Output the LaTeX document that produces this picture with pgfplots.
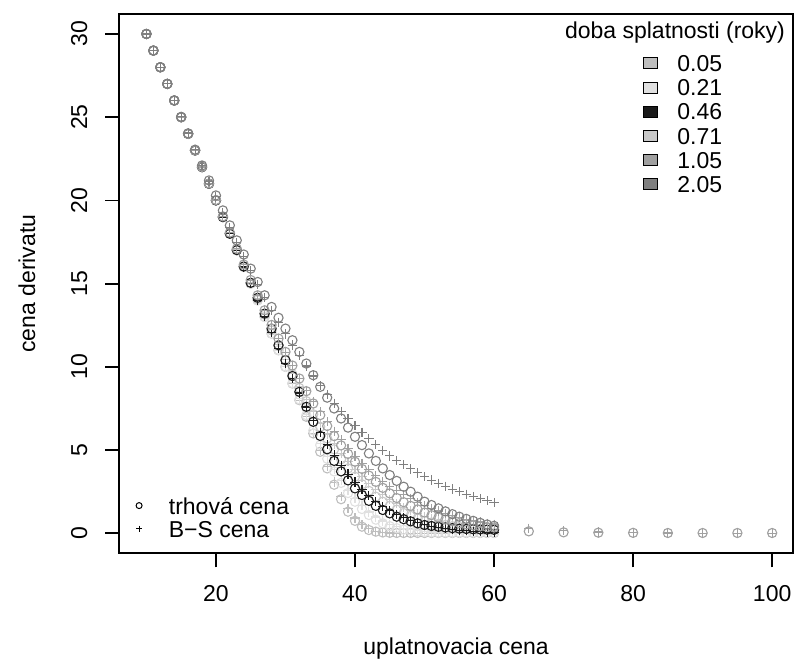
\documentclass[border=0pt]{standalone}
\usepackage{fontspec}
\setmainfont{Liberation Sans}
\usepackage{pgfplots}
\usepackage{pgfplotstable}
\pgfplotsset{compat=1.18}
\definecolor{c005}{HTML}{BEBEBE}
\definecolor{c021}{HTML}{E0E0E0}
\definecolor{c046}{HTML}{1A1A1A}
\definecolor{c071}{HTML}{C8C8C8}
\definecolor{c105}{HTML}{A0A0A0}
\definecolor{c205}{HTML}{7F7F7F}

\pgfplotstableread{
K m05 b05 m21 b21 m46 b46 m71 b71 m105 b105 m205 b205
10 30 30 30 30 30 30 30 30 30 30 30.00 30.00
11 29 29 29 29 29 29 29 29 29 29 29.00 29.00
12 28 28 28 28 28 28 28 28 28 28 28.00 28.01
13 27 27 27 27 27 27 27 27 27 27 27.00 27.01
14 26 26 26 26 26 26 26 26 26 26 26.01 26.02
15 25 25 25 25 25 25 25 25 25 25 25.02 25.03
16 24 24 24 24 24 24 24 24 24 24 24.03 24.05
17 23 23 23 23 23 23 23 23 23 23 23.05 23.07
18 22 22 22 22 22 22 22 22 22.01 22.01 22.10 22.10
19 21 21 21 21 21 21 21 21 21.01 21.01 21.20 21.15
20 20 20 20 20 20 20 20 20 20.02 20.02 20.30 20.21
21 19 19 19 19 19 19 19 19.01 19.04 19.04 19.40 19.28
22 18 18 18 18 18 18 18 18.01 18.07 18.07 18.50 18.37
23 17 17 17 17 17.02 17.00 17.01 17.02 17.10 17.10 17.60 17.48
24 16 16 16 16 16.03 16.00 16.03 16.04 16.15 16.15 16.75 16.62
25 15 15 15 15 15.05 15.01 15.05 15.07 15.22 15.21 15.90 15.78
26 14 14 14 14 14.15 14.02 14.08 14.10 14.30 14.29 15.10 14.96
27 13 13 13 13 13.20 13.04 13.13 13.16 13.40 13.39 14.30 14.17
28 12 12 12 12 12.30 12.08 12.19 12.22 12.52 12.52 13.60 13.40
29 11 11 11 11.00 11.30 11.13 11.28 11.33 11.70 11.68 12.95 12.68
30 10 10 10.01 10.02 10.40 10.20 10.40 10.46 10.90 10.86 12.30 11.98
31 9 9 9.02 9.04 9.45 9.30 9.55 9.62 10.08 10.07 11.60 11.31
32 8 8 8.05 8.08 8.50 8.43 8.73 8.81 9.30 9.32 10.90 10.67
33 7 7 7.10 7.14 7.60 7.59 7.94 8.04 8.54 8.60 10.20 10.05
34 6 6 6.18 6.24 6.70 6.79 7.15 7.31 7.80 7.93 9.50 9.45
35 4.90 5.00 5.30 5.39 5.85 6.04 6.40 6.62 7.10 7.30 8.80 8.87
36 3.90 4.02 4.48 4.59 5.05 5.35 5.70 5.97 6.45 6.70 8.15 8.33
37 2.92 3.08 3.72 3.85 4.35 4.70 5.05 5.37 5.84 6.14 7.50 7.82
38 2.05 2.22 3.03 3.19 3.72 4.09 4.45 4.81 5.28 5.61 6.90 7.34
39 1.30 1.48 2.42 2.59 3.18 3.56 3.90 4.30 4.77 5.11 6.35 6.89
40 0.75 0.92 1.90 2.08 2.70 3.08 3.40 3.82 4.30 4.64 5.80 6.47
41 0.40 0.52 1.46 1.65 2.30 2.64 2.95 3.39 3.87 4.21 5.30 6.07
42 0.20 0.27 1.10 1.28 1.95 2.25 2.55 3.00 3.47 3.81 4.80 5.69
43 0.10 0.12 0.82 0.98 1.65 1.91 2.20 2.65 3.09 3.45 4.35 5.33
44 0.05 0.05 0.60 0.74 1.40 1.62 1.90 2.33 2.73 3.12 3.90 4.98
45 0.03 0.02 0.43 0.55 1.20 1.36 1.65 2.04 2.40 2.83 3.50 4.65
46 0.02 0.01 0.31 0.41 1.00 1.13 1.42 1.79 2.12 2.56 3.15 4.38
47 0.02 0.00 0.22 0.30 0.85 0.94 1.22 1.56 1.87 2.31 2.80 4.12
48 0.02 0.00 0.16 0.21 0.72 0.78 1.05 1.36 1.65 2.08 2.50 3.87
49 0.02 0.00 0.11 0.15 0.60 0.64 0.89 1.18 1.44 1.86 2.20 3.63
50 0.02 0.00 0.08 0.11 0.50 0.53 0.75 1.02 1.25 1.66 1.90 3.40
51 0.02 0.00 0.06 0.08 0.44 0.43 0.65 0.89 1.09 1.49 1.70 3.20
52 0.02 0.00 0.05 0.05 0.39 0.35 0.57 0.77 0.95 1.34 1.50 3.01
53 0.02 0.00 0.05 0.04 0.35 0.28 0.50 0.66 0.83 1.20 1.32 2.83
54 0.02 0.00 0.05 0.02 0.31 0.23 0.43 0.57 0.72 1.07 1.15 2.66
55 0.02 0.00 0.05 0.02 0.28 0.19 0.38 0.48 0.62 0.95 1.00 2.50
56 0.02 0.00 0.05 0.01 0.26 0.15 0.33 0.42 0.54 0.85 0.87 2.35
57 0.02 0.00 0.05 0.01 0.24 0.12 0.29 0.36 0.47 0.76 0.75 2.21
58 0.02 0.00 0.05 0.00 0.23 0.09 0.26 0.31 0.42 0.68 0.63 2.08
59 0.02 0.00 0.05 0.00 0.22 0.07 0.24 0.26 0.38 0.61 0.53 1.96
60 0.02 0.00 0.05 0.00 0.21 0.06 0.22 0.22 0.35 0.54 0.45 1.85
}\datatab

\pgfplotstableread{
K m105 b105
65 0.12 0.30
70 0.06 0.16
75 0.04 0.08
80 0.03 0.04
85 0.02 0.02
90 0.02 0.01
95 0.02 0.01
100 0.02 0.00
}\extratab

\newcommand{\fs}{\fontsize{11.5}{13.8}\selectfont}

\begin{document}
\begin{tikzpicture}
\useasboundingbox (-59.65pt,-54.35pt) rectangle (337.85pt,276.65pt);
\begin{axis}[
  at={(0pt,0pt)}, anchor=south west,
  scale only axis, width=336.85pt, height=269.65pt,
  xmin=6.1, xmax=103.0, ymin=-1.2, ymax=31.2,
  xtick={20,40,60,80,100}, ytick={0,5,10,15,20,25,30},
  xtick pos=bottom, ytick pos=left,
  tick align=outside, major tick length=7pt,
  axis line style={line width=0.9pt},
  every tick/.style={black, line width=0.9pt},
  tick label style={font=\fs},
  /pgf/number format/assume math mode=true,
  xticklabel style={anchor=center},
  xticklabel shift=13pt,
  yticklabel style={rotate=90, anchor=center},
  yticklabel shift=13pt,
  clip=false,
  legend style={at={(axis description cs:0,0)}, anchor=south west,
    xshift=8.4pt, yshift=5.65pt, draw=none, fill=none,
    inner sep=0pt, outer sep=0pt, row sep=0.5pt, column sep=13.4pt,
    font=\fs, nodes={inner sep=0pt, text height=8.5pt, text depth=2.5pt}},
  legend cell align=left,
  legend image code/.code={\draw[#1, mark size=1.5pt, yshift=1.2pt] plot coordinates {(0pt,0pt)};},
]
% legend images
\addlegendimage{only marks, mark=o, black, mark options={line width=0.5pt}}
\addlegendentry{trhová cena}
\addlegendimage{only marks, mark=+, black, mark options={line width=0.5pt}}
\addlegendentry{B−S cena}

\pgfplotsset{
  mk/.style={only marks, mark=o, mark size=2.3pt, #1, mark options={line width=0.55pt}, forget plot},
  bs/.style={only marks, mark=+, mark size=2.3pt, #1, mark options={line width=0.55pt}, forget plot},
}
\addplot[mk=c005] table[x=K, y=m05] {\datatab};
\addplot[bs=c005] table[x=K, y=b05] {\datatab};
\addplot[mk=c021] table[x=K, y=m21] {\datatab};
\addplot[bs=c021] table[x=K, y=b21] {\datatab};
\addplot[mk=c071] table[x=K, y=m71] {\datatab};
\addplot[bs=c071] table[x=K, y=b71] {\datatab};
\addplot[mk=c046] table[x=K, y=m46] {\datatab};
\addplot[bs=c046] table[x=K, y=b46] {\datatab};
\addplot[mk=c105] table[x=K, y=m105] {\datatab};
\addplot[bs=c105] table[x=K, y=b105] {\datatab};
\addplot[mk=c105] table[x=K, y=m105] {\extratab};
\addplot[bs=c105] table[x=K, y=b105] {\extratab};
\addplot[mk=c205] table[x=K, y=m205] {\datatab};
\addplot[bs=c205] table[x=K, y=b205] {\datatab};
\end{axis}

% axis titles
\node[font=\fs, anchor=center] at (168.4pt,-47.5pt) {uplatnovacia cena};
\node[font=\fs, anchor=center, rotate=90] at (-46.15pt,134.8pt) {cena derivatu};

% maturity legend
\node[font=\fs, anchor=center] at (277.85pt,260.15pt) {doba splatnosti (roky)};
\foreach \c/\t/\yy in {c005/0.05/244.9, c021/0.21/232.8, c046/0.46/220.7, c071/0.71/208.6, c105/1.05/196.5, c205/2.05/184.4}{
  \draw[fill=\c, line width=0.5pt] (261.85pt,\yy pt-2.75pt) rectangle (268.85pt,\yy pt+2.75pt);
  \node[font=\fs, anchor=west, inner sep=0pt] at (278.85pt,\yy pt) {\t};
}
\end{tikzpicture}
\end{document}
